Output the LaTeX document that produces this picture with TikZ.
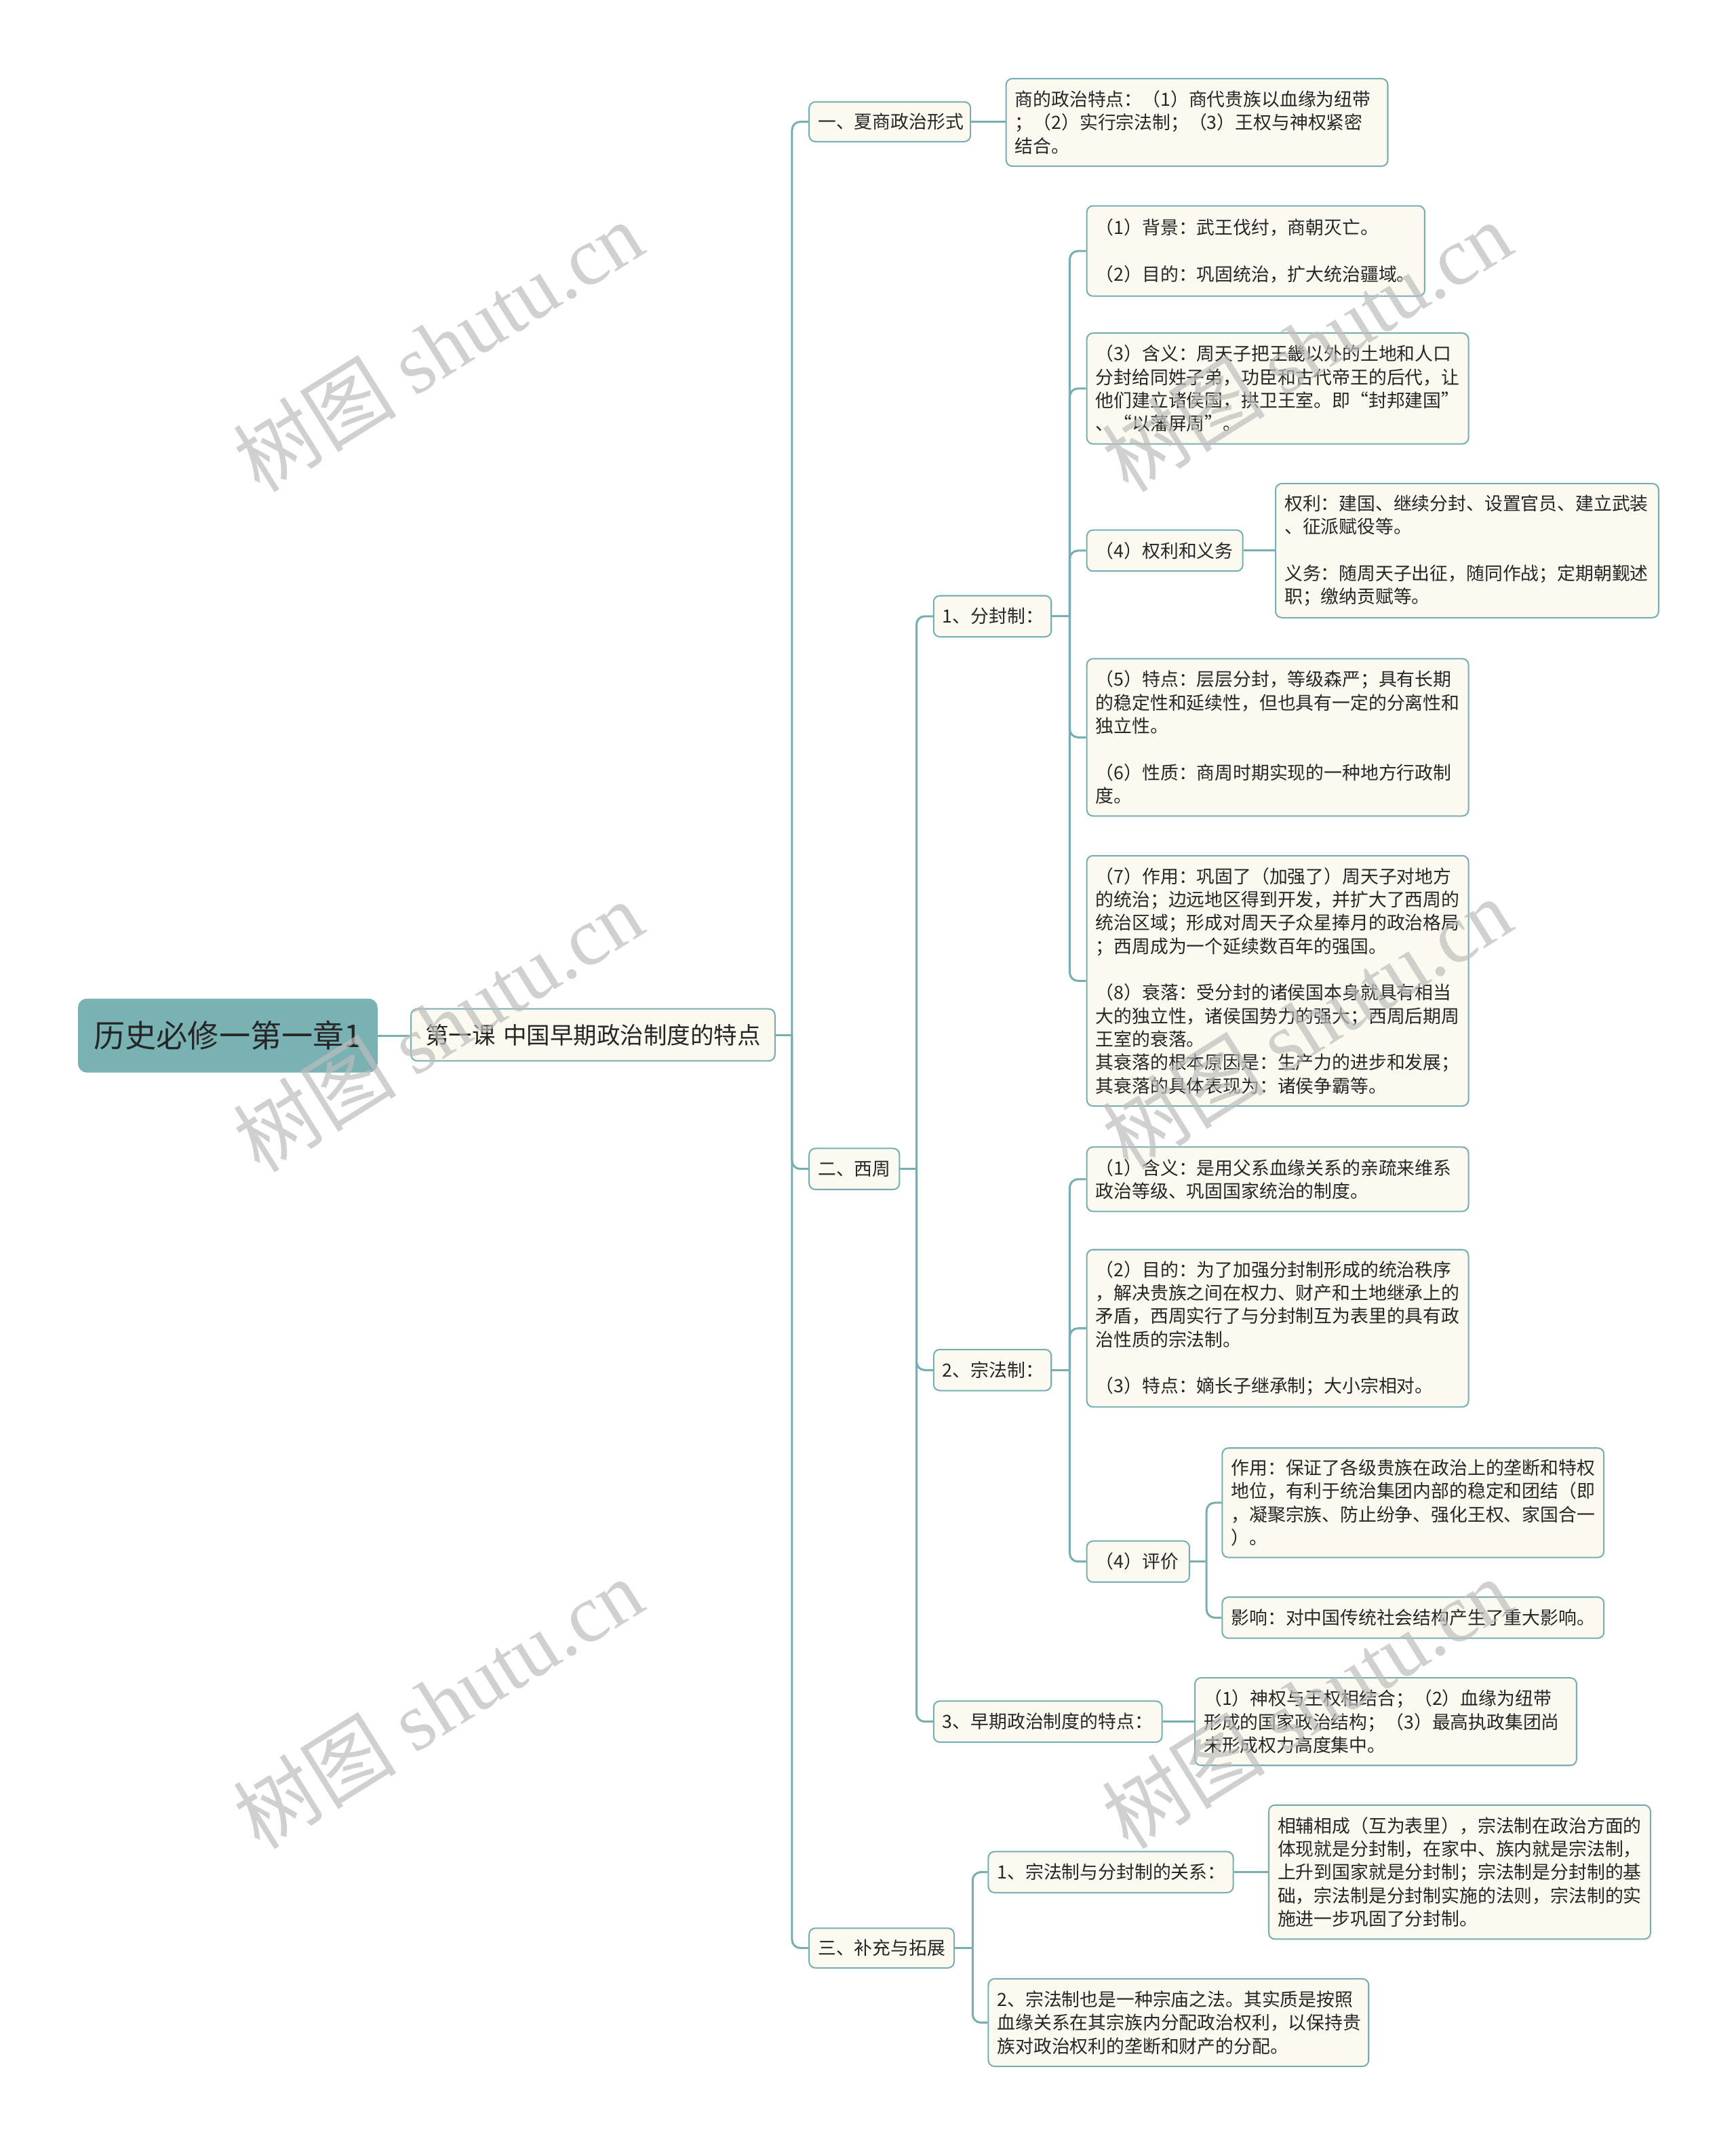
\documentclass[tikz,border=0pt]{standalone}
\usepackage{fontspec}
\setmainfont{Noto Sans CJK SC}
\newfontfamily\wmlatin{Liberation Serif}
\usetikzlibrary{calc}
\definecolor{rootfill}{HTML}{7AB2B4}
\definecolor{linec}{HTML}{78AEB1}
\definecolor{cream}{HTML}{FCFAF0}
\definecolor{txt}{HTML}{262626}
\definecolor{wm}{HTML}{BDBDBD}
\tikzset{
  base/.style={draw=linec, line width=1pt, rounded corners=4.5pt, anchor=north west,
    inner xsep=6.5pt, inner ysep=0pt, text=txt, font=\fontsize{13.3}{17}\selectfont},
  box/.style={base, fill=cream, align=left},
  rootbox/.style={base, fill=rootfill, draw=rootfill, align=center, rounded corners=6pt,
    font=\fontsize{22.9}{26}\selectfont, text=black!85},
  lonebox/.style={base, fill=cream, align=center, font=\fontsize{17.1}{20}\selectfont},
  conn/.style={draw=linec, line width=1.5pt},
  bendconn/.style={conn, rounded corners=6pt},
  wmark/.style={text=wm, opacity=0.7, rotate=32, font=\fontsize{60}{64}\selectfont, inner sep=0pt},
}
\newcommand{\wmtext}{树图\ {\wmlatin shutu.cn}}
\begin{document}
\begin{tikzpicture}[x=1pt, y=-1pt]
\useasboundingbox (0,0) rectangle (1269,1568);
\fill[white] (0,0) rectangle (1269,1568);

% root and level 1
\node[rootbox, minimum width=218pt, minimum height=53pt, text width=205pt] (root) at (57,730) {历史必修一第一章1};
\node[lonebox, minimum width=266pt, minimum height=38pt, text width=253pt] (L1) at (300,737) {第一课\ 中国早期政治制度的特点};

% level 2
\node[box, minimum width=118pt, minimum height=29pt, text width=105pt] (a1) at (591,74) {一、夏商政治形式};
\node[box, minimum width=66pt, minimum height=30pt, text width=53pt] (a2) at (591,839) {二、西周};
\node[box, minimum width=106pt, minimum height=29pt, text width=93pt] (a3) at (591,1409) {三、补充与拓展};

\node[box, minimum width=279pt, minimum height=64pt, text width=266pt] (a1c) at (735,57)
 {商的政治特点：（1）商代贵族以血缘为纽带\\；（2）实行宗法制；（3）王权与神权紧密\\结合。};

% level 3 under 西周
\node[box, minimum width=86pt, minimum height=30pt, text width=73pt] (b1) at (682,435) {1、分封制：};
\node[box, minimum width=86pt, minimum height=30pt, text width=73pt] (b2) at (682,986) {2、宗法制：};
\node[box, minimum width=167pt, minimum height=30pt, text width=154pt] (b3) at (682,1243) {3、早期政治制度的特点：};

% children of 分封制
\node[box, minimum width=247pt, minimum height=66pt, text width=234pt] (f1) at (794,150)
 {（1）背景：武王伐纣，商朝灭亡。\\[17pt]（2）目的：巩固统治，扩大统治疆域。};
\node[box, minimum width=279pt, minimum height=81pt, text width=266pt] (f2) at (794,243)
 {（3）含义：周天子把王畿以外的土地和人口\\分封给同姓子弟，功臣和古代帝王的后代，让\\他们建立诸侯国，拱卫王室。即“封邦建国”\\、“以藩屏周”。};
\node[box, minimum width=114pt, minimum height=30pt, text width=101pt] (f3) at (794,387) {（4）权利和义务};
\node[box, minimum width=280pt, minimum height=98pt, text width=267pt] (f3c) at (932,353)
 {权利：建国、继续分封、设置官员、建立武装\\、征派赋役等。\\[17pt]义务：随周天子出征，随同作战；定期朝觐述\\职；缴纳贡赋等。};
\node[box, minimum width=279pt, minimum height=115pt, text width=266pt] (f4) at (794,481)
 {（5）特点：层层分封，等级森严；具有长期\\的稳定性和延续性，但也具有一定的分离性和\\独立性。\\[17pt]（6）性质：商周时期实现的一种地方行政制\\度。};
\node[box, minimum width=279pt, minimum height=183pt, text width=266pt] (f5) at (794,625)
 {（7）作用：巩固了（加强了）周天子对地方\\的统治；边远地区得到开发，并扩大了西周的\\统治区域；形成对周天子众星捧月的政治格局\\；西周成为一个延续数百年的强国。\\[17pt]（8）衰落：受分封的诸侯国本身就具有相当\\大的独立性，诸侯国势力的强大；西周后期周\\王室的衰落。\\其衰落的根本原因是：生产力的进步和发展；\\其衰落的具体表现为：诸侯争霸等。};

% children of 宗法制
\node[box, minimum width=279pt, minimum height=47pt, text width=266pt] (z1) at (794,838)
 {（1）含义：是用父系血缘关系的亲疏来维系\\政治等级、巩固国家统治的制度。};
\node[box, minimum width=279pt, minimum height=115pt, text width=266pt] (z2) at (794,913)
 {（2）目的：为了加强分封制形成的统治秩序\\，解决贵族之间在权力、财产和土地继承上的\\矛盾，西周实行了与分封制互为表里的具有政\\治性质的宗法制。\\[17pt]（3）特点：嫡长子继承制；大小宗相对。};
\node[box, minimum width=75pt, minimum height=30pt, text width=62pt] (z3) at (794,1126) {（4）评价};
\node[box, minimum width=279pt, minimum height=80pt, text width=266pt] (z3a) at (893,1058)
 {作用：保证了各级贵族在政治上的垄断和特权\\地位，有利于统治集团内部的稳定和团结（即\\，凝聚宗族、防止纷争、强化王权、家国合一\\）。};
\node[box, minimum width=279pt, minimum height=30pt, text width=266pt] (z3b) at (893,1167)
 {影响：对中国传统社会结构产生了重大影响。};

\node[box, minimum width=279pt, minimum height=64pt, text width=266pt] (b3c) at (873,1226)
 {（1）神权与王权相结合；（2）血缘为纽带\\形成的国家政治结构；（3）最高执政集团尚\\未形成权力高度集中。};

% children of 补充与拓展
\node[box, minimum width=179pt, minimum height=30pt, text width=166pt] (c1) at (722,1353) {1、宗法制与分封制的关系：};
\node[box, minimum width=279pt, minimum height=98pt, text width=266pt] (c1c) at (927,1319)
 {相辅相成（互为表里），宗法制在政治方面的\\体现就是分封制，在家中、族内就是宗法制，\\上升到国家就是分封制；宗法制是分封制的基\\础，宗法制是分封制实施的法则，宗法制的实\\施进一步巩固了分封制。};
\node[box, minimum width=278pt, minimum height=64pt, text width=265pt] (c2) at (722,1446)
 {2、宗法制也是一种宗庙之法。其实质是按照\\血缘关系在其宗族内分配政治权利，以保持贵\\族对政治权利的垄断和财产的分配。};

% connectors
\draw[conn] (root.east) -- (root.east -| L1.west);

\coordinate (s0) at ($(L1.east)+(12,0)$);
\draw[conn] (L1.east) -- (s0);
\foreach \c in {a1,a2,a3} \draw[bendconn] (s0) |- (\c.west);

\draw[conn] (a1.east) -- (a1.east -| a1c.west);

\coordinate (s2) at ($(a2.east)+(12,0)$);
\draw[conn] (a2.east) -- (s2);
\foreach \c in {b1,b2,b3} \draw[bendconn] (s2) |- (\c.west);

\coordinate (s3) at ($(b1.east)+(13,0)$);
\draw[conn] (b1.east) -- (s3);
\foreach \c in {f1,f2,f3,f4,f5} \draw[bendconn] (s3) |- (\c.west);
\draw[conn] (f3.east) -- (f3.east -| f3c.west);

\coordinate (s4) at ($(b2.east)+(13,0)$);
\draw[conn] (b2.east) -- (s4);
\foreach \c in {z1,z2,z3} \draw[bendconn] (s4) |- (\c.west);

\coordinate (s5) at ($(z3.east)+(12,0)$);
\draw[conn] (z3.east) -- (s5);
\foreach \c in {z3a,z3b} \draw[bendconn] (s5) |- (\c.west);

\draw[conn] (b3.east) -- (b3.east -| b3c.west);

\coordinate (s6) at ($(a3.east)+(13,0)$);
\draw[conn] (a3.east) -- (s6);
\foreach \c in {c1,c2} \draw[bendconn] (s6) |- (\c.west);
\draw[conn] (c1.east) -- (c1.east -| c1c.west);

% watermarks
\node[wmark] (w1) at (320,253) {\wmtext};
\node[wmark] (w2) at (320,750) {\wmtext};
\node[wmark] (w3) at (320,1245) {\wmtext};
\node[wmark] (w4) at (955,253) {\wmtext};
\node[wmark] (w5) at (955,748) {\wmtext};
\node[wmark] (w6) at (955,1245) {\wmtext};
\end{tikzpicture}
\end{document}
